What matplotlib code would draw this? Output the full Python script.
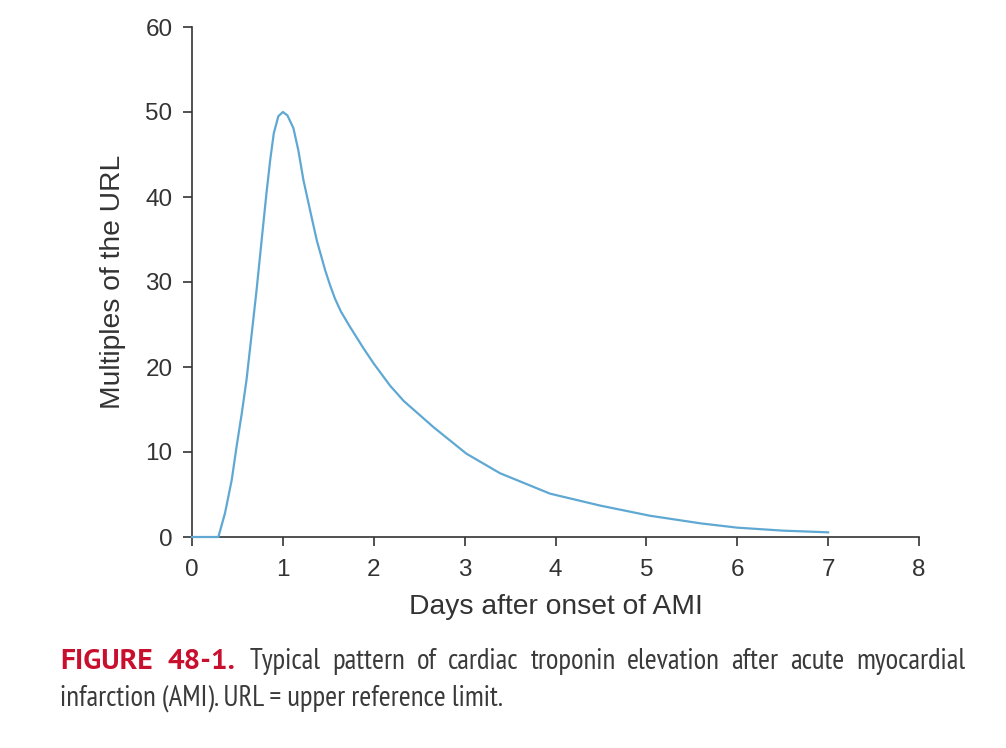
import matplotlib
matplotlib.use("Agg")
import matplotlib.pyplot as plt

# Troponin curve (days, multiples of URL)
days = [0.0, 0.29, 0.363, 0.437, 0.49, 0.547, 0.60, 0.66, 0.71, 0.77, 0.82, 0.86,
        0.90, 0.95, 1.0, 1.05, 1.116, 1.17, 1.226, 1.30, 1.373, 1.465, 1.52, 1.575,
        1.64, 1.74, 1.887, 2.0, 2.18, 2.33, 2.66, 3.02, 3.39, 3.94, 4.49, 5.04, 5.6,
        6.0, 6.5, 7.0]
url_multiples = [0.0, 0.0, 2.8, 6.7, 10.6, 14.5, 18.5, 24.2, 29.0, 35.3, 40.5, 44.3,
                 47.5, 49.5, 50.0, 49.6, 48.1, 45.5, 42.0, 38.4, 34.9, 31.4, 29.6, 28.0,
                 26.5, 24.7, 22.2, 20.4, 17.8, 16.0, 12.9, 9.8, 7.5, 5.1, 3.7, 2.5, 1.6,
                 1.1, 0.75, 0.55]

x_ticks = [0, 1, 2, 3, 4, 5, 6, 7, 8]
y_ticks = [0, 10, 20, 30, 40, 50, 60]

caption_lead = ["FIGURE", "48-1."]
caption_line1 = ["Typical", "pattern", "of", "cardiac", "troponin", "elevation",
                 "after", "acute", "myocardial"]
caption_line2 = "infarction (AMI). URL = upper reference limit."

W, H = 1006, 748
fig = plt.figure(figsize=(W / 100, H / 100), dpi=100)
ax = fig.add_axes([192 / W, 1 - 537 / H, (919 - 192) / W, (537 - 27) / H])

ax.plot(days, url_multiples, color="#5fa8d3", linewidth=1.6, zorder=3, clip_on=False,
        solid_joinstyle="round")

ax.set_xlim(0, 8)
ax.set_ylim(0, 60)
ax.set_xticks(x_ticks)
ax.set_yticks(y_ticks)

for side in ["top", "right"]:
    ax.spines[side].set_visible(False)
for side in ["left", "bottom"]:
    ax.spines[side].set_color("#333333")
    ax.spines[side].set_linewidth(1.2)

font = "Liberation Sans"
ax.tick_params(axis="both", direction="out", length=6.5, width=1.2, color="#333333",
               labelsize=17.5, labelcolor="#333333")
ax.tick_params(axis="y", pad=7.5)
ax.tick_params(axis="x", pad=9)
for lab in ax.get_xticklabels() + ax.get_yticklabels():
    lab.set_family(font)

ax.set_xlabel("Days after onset of AMI", fontsize=20.3, color="#333333", family=font,
              labelpad=10)
ax.set_ylabel("Multiples of the URL", fontsize=20.3, color="#333333", family=font,
              labelpad=14)

# caption: red bold lead, then first line justified to x=965 px
renderer = fig.canvas.get_renderer()
red = "#c8102e"
gray = "#3a3a3a"
narrow = ["PT Sans Narrow", "DejaVu Sans"]
bold = ["PT Sans", "DejaVu Sans"]
y1 = 1 - 669 / H
y2 = 1 - 706 / H


def fit_size(text, family, weight, target_px, base=15):
    t = fig.text(0, 0, text, fontsize=base, family=family, weight=weight)
    w = t.get_window_extent(renderer).width
    t.remove()
    return base * target_px / w


line2_size = fit_size(caption_line2, narrow, "normal", 442)
lead_size = fit_size(caption_lead[0], bold, "bold", 93)

fig.text(60 / W, y1, caption_lead[0], fontsize=lead_size, weight="bold", color=red,
         family=bold, ha="left", va="baseline")
lead2 = fig.text(167 / W, y1, caption_lead[1], fontsize=lead_size, weight="bold",
                 color=red, family=bold, ha="left", va="baseline")
lead2_end = lead2.get_window_extent(renderer).x1

words = [fig.text(0, y1, w, fontsize=line2_size, color=gray, family=narrow,
                  ha="left", va="baseline") for w in caption_line1]
widths = [t.get_window_extent(renderer).width for t in words]
start, end = lead2_end + 15, 965
gap = (end - start - sum(widths)) / (len(words) - 1)
pos = start
for t, w in zip(words, widths):
    t.set_x(pos / W)
    pos += w + gap

fig.text(60 / W, y2, caption_line2, fontsize=line2_size, color=gray, family=narrow,
         ha="left", va="baseline")

fig.savefig("out.png", dpi=100)
